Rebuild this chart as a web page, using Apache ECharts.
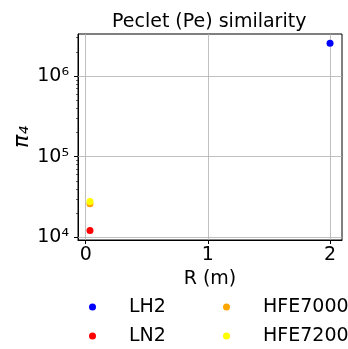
<!DOCTYPE html>
<html><head><meta charset="utf-8">
<script src="https://cdn.jsdelivr.net/npm/echarts@6/dist/echarts.min.js"></script>
<style>html,body{margin:0;padding:0;background:#fff}#c{width:348px;height:349px}</style>
</head><body><div id="c"></div>
<script>
const seriesNames = ['LH2', 'LN2', 'HFE7000', 'HFE7200'];
const seriesColors = ['#0000ff', '#ff0000', '#ffa500', '#ffff00'];
const radiusValues = [2.0, 0.035, 0.035, 0.035];
const pi4Values = [2.55e6, 1.21e4, 2.6e4, 2.77e4];
const xTicks = [0, 1, 2];
const yTicks = [1e4, 1e5, 1e6];
const yMinorTicks = [2e4,3e4,4e4,5e4,6e4,7e4,8e4,9e4,2e5,3e5,4e5,5e5,6e5,7e5,8e5,9e5,2e6,3e6];
const xRange = [-0.063, 2.098];
const yRange = [9250, 3.33e6];

const FONT = 'DejaVu Sans';
const sup = {'0':'⁰','1':'¹','2':'²','3':'³','4':'⁴','5':'⁵','6':'⁶','7':'⁷','8':'⁸','9':'⁹'};
function fmtPow(v){
  const e = Math.round(Math.log10(v));
  return '10' + String(e).split('').map(c=>sup[c]).join('');
}
const gridStyle = {color:'#b0b0b0', width:0.8, type:'solid'};
const gridLines = xTicks.map(v=>({xAxis:v})).concat(yTicks.map(v=>({yAxis:v})));

const series = seriesNames.map((n,i)=>({
  name:n, type:'scatter', symbolSize:7,
  itemStyle:{color:seriesColors[i], opacity:1},
  data:[[radiusValues[i], pi4Values[i]]],
  z:5
}));
series[0].markLine = {silent:true, symbol:'none', label:{show:false}, lineStyle:gridStyle, data:gridLines, z:1, animation:false};

// legend layout: column-major, 2 columns
const legendPos = [[89,297],[89,326],[223,297],[223,326]];
const legends = seriesNames.map((n,i)=>({
  data:[n], orient:'horizontal', left:legendPos[i][0], top:legendPos[i][1], padding:0,
  icon:'circle', itemWidth:7, itemHeight:7,
  textStyle:{fontFamily:FONT, fontSize:19, lineHeight:20, color:'#000', padding:[0,0,0,28]}
}));

const chart = echarts.init(document.getElementById('c'), null, {renderer:'canvas'});
chart.setOption({
  animation:false,
  textStyle:{fontFamily:FONT},
  title:{text:'Peclet (Pe) similarity', left:107, top:8,
    textStyle:{fontFamily:FONT, fontSize:19, fontWeight:'normal', color:'#000'}},
  grid:{left:78, right:6, top:34, bottom:109, containLabel:false, outerBoundsMode:'none',
    show:true, borderColor:'#000', borderWidth:1, backgroundColor:'transparent'},
  xAxis:{type:'value', min:xRange[0], max:xRange[1],
    name:'R (m)', nameLocation:'middle', nameGap:30, nameMoveOverlap:false,
    nameTextStyle:{fontFamily:FONT, fontSize:19, color:'#000'},
    axisLine:{show:true, onZero:false, lineStyle:{color:'#000', width:1}},
    axisTick:{show:true, inside:false, length:4, customValues:xTicks, lineStyle:{color:'#000'}},
    axisLabel:{show:true, margin:6, customValues:xTicks, fontFamily:FONT, fontSize:19, color:'#000'},
    splitLine:{show:false}},
  yAxis:[{type:'log', min:yRange[0], max:yRange[1],
    name:'π₄', nameLocation:'middle', nameGap:45, nameRotate:90, nameMoveOverlap:false,
    nameTextStyle:{fontFamily:FONT, fontSize:22, fontStyle:'italic', color:'#000'},
    axisLine:{show:true, onZero:false, lineStyle:{color:'#000', width:1}},
    axisTick:{show:true, inside:false, length:4, customValues:yTicks, lineStyle:{color:'#000'}},
    axisLabel:{show:true, margin:9, customValues:yTicks, formatter:fmtPow, fontFamily:FONT, fontSize:19, color:'#000'},
    splitLine:{show:false}, minorTick:{show:false}},
   {type:'log', min:yRange[0], max:yRange[1], position:'left', offset:0,
    axisLine:{show:false, onZero:false},
    axisTick:{show:true, inside:false, length:2, customValues:yMinorTicks, lineStyle:{color:'#000', width:0.6}},
    axisLabel:{show:false}, splitLine:{show:false}}],
  legend:legends,
  series:series
});
</script></body></html>
